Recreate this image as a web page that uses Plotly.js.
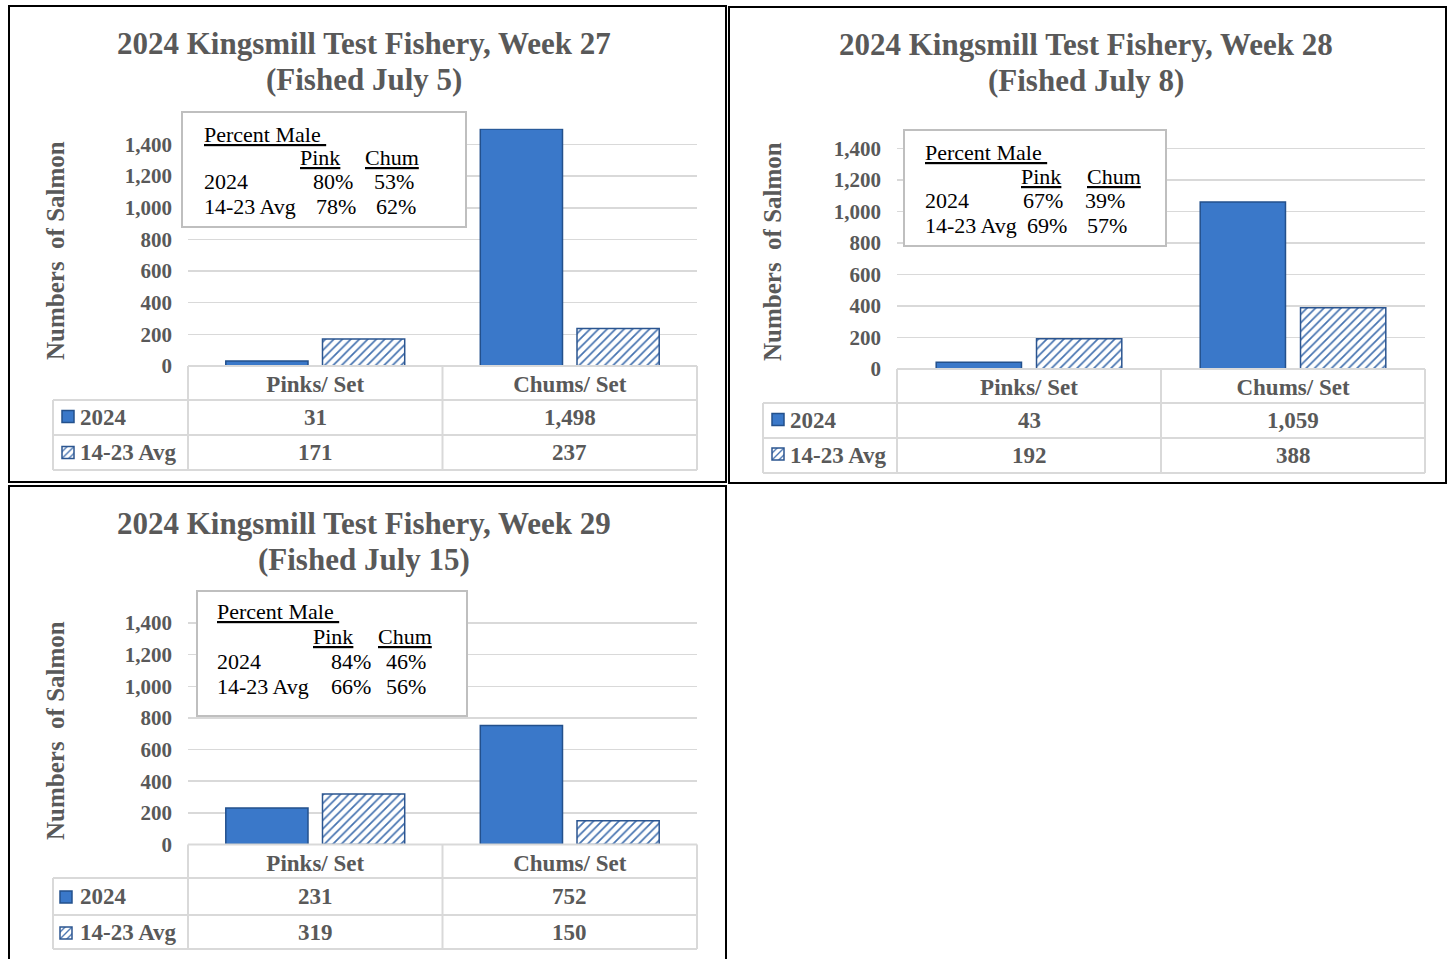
<!DOCTYPE html>
<html>
<head>
<meta charset="utf-8">
<script src="https://cdn.plot.ly/plotly-3.0.1.min.js"></script>
<style>html,body{margin:0;padding:0;background:#fff;}#chart{width:1448px;height:959px;}</style>
</head>
<body>
<div id="chart"></div>
<script>
// ---------------- DATA ----------------
const weeks = [27, 28, 29];
const fishedDates = ['July 5', 'July 8', 'July 15'];
const categories = ['Pinks/ Set', 'Chums/ Set'];
const seriesNames = ['2024', '14-23 Avg'];
const pinks2024 = [31, 43, 231];
const chums2024 = [1498, 1059, 752];
const pinksAvg = [171, 192, 319];
const chumsAvg = [237, 388, 150];
const malePink2024 = [80, 67, 84];
const maleChum2024 = [53, 39, 46];
const malePinkAvg = [78, 69, 66];
const maleChumAvg = [62, 57, 56];
const yTickVals = [0, 200, 400, 600, 800, 1000, 1200, 1400];
const yTitle = 'Numbers  of Salmon';

// ---------------- LAYOUT GEOMETRY (pixels) ----------------
const W = 1448, H = 959;
const FONT = '"Liberation Serif", "Times New Roman", serif';
const GRAY = '#595959';
const px = x => x / W;
const py = y => 1 - y / H;
const Y_MAX = 1500;

const G = [
  {border:[9,6,726,482], plotX:[188,697], zeroY:366, ppu:221.5/1400, titleX:364, titleY:[43.5,79.5],
   yTitleX:55, yTitleY:251, box:[182,112,466,227], textLeft:202, lineY:[134.3,157.6,181.6,206.6],
   pinkC:320, chumC:392, pinkR:[355,358], chumR:[416,418],
   tableLeft:53, rows:[366,400,435,470], iconX:68, iconY:[416.5,452.5], labelX:78},
  {border:[729,7,1446,483], plotX:[897,1425], zeroY:369, ppu:220.7/1400, titleX:1086, titleY:[44.5,80.5],
   yTitleX:772, yTitleY:252, box:[904,130,1166,246], textLeft:923, lineY:[152.6,176.6,200.6,225.6],
   pinkC:1041, chumC:1113.5, pinkR:[1065,1069], chumR:[1127,1129],
   tableLeft:763, rows:[369,403,438,473], iconX:778, iconY:[419.5,454], labelX:788},
  {border:[9,486,726,965], plotX:[188,697], zeroY:844.5, ppu:221.5/1400, titleX:364, titleY:[523.5,559.5],
   yTitleX:55, yTitleY:731, box:[197,591,467,716], textLeft:215, lineY:[611.6,636.6,661.6,686.6],
   pinkC:332.5, chumC:405, pinkR:[373,373], chumR:[428,428],
   tableLeft:53, rows:[844.5,878,915,949], iconX:66, iconY:[897,933], labelX:78}
];

const fmt = v => v.toLocaleString('en-US');

const data = [];
const layout = {
  width: W, height: H,
  margin: {l:0, r:0, t:0, b:0},
  paper_bgcolor: '#ffffff', plot_bgcolor: 'rgba(0,0,0,0)',
  barmode: 'group', bargap: 0.24, bargroupgap: 0.15,
  showlegend: true,
  font: {family: FONT, color: GRAY},
  shapes: [], annotations: []
};

function line(x0, y0, x1, y1, color, width) {
  layout.shapes.push({type:'line', xref:'paper', yref:'paper', x0:px(x0), y0:py(y0), x1:px(x1), y1:py(y1),
    line:{color:color, width:width}, layer:'above'});
}
function ann(text, x, y, opts) {
  layout.annotations.push(Object.assign({xref:'paper', yref:'paper', x:px(x), y:py(y), text:text,
    showarrow:false, xanchor:'center', yanchor:'middle',
    font:{family:FONT, size:22, color:'#000'}}, opts || {}));
}

const seriesVals = [
  [pinks2024, chums2024],
  [pinksAvg, chumsAvg]
];
const maleVals = [
  [malePink2024, maleChum2024],
  [malePinkAvg, maleChumAvg]
];

G.forEach((g, i) => {
  const suf = i === 0 ? '' : String(i + 1);
  const xa = 'x' + suf, ya = 'y' + suf;
  const topY = g.zeroY - Y_MAX * g.ppu;

  layout['xaxis' + suf] = {
    domain: [px(g.plotX[0]), px(g.plotX[1])], anchor: ya, type: 'category',
    categoryorder: 'array', categoryarray: categories,
    showgrid: false, zeroline: false, showline: false, ticks: '',
    ticklabelstandoff: 2,
    tickfont: {family: FONT, size: 23, color: GRAY, weight: 'bold'},
    fixedrange: true
  };
  layout['yaxis' + suf] = {
    domain: [py(g.zeroY), py(topY)], anchor: xa, range: [0, Y_MAX],
    tickvals: yTickVals, ticktext: yTickVals.map(fmt),
    showgrid: true, gridcolor: '#d9d9d9', gridwidth: 1.5,
    zeroline: false, showline: false, ticks: '',
    ticklabelstandoff: 15,
    tickfont: {family: FONT, size: 21, color: GRAY, weight: 'bold'},
    fixedrange: true
  };

  // bars
  seriesNames.forEach((s, k) => {
    const legKey = 'legend' + ((2 * i + k) === 0 ? '' : String(2 * i + k + 1));
    const trace = {
      type: 'bar', x: categories, y: [seriesVals[k][0][i], seriesVals[k][1][i]],
      name: ' ', xaxis: xa, yaxis: ya, legend: legKey, hoverinfo: 'skip',
      marker: k === 0
        ? {color: '#3a78c9', line: {color: '#23508c', width: 1.5}}
        : {color: '#ffffff', line: {color: '#2b5590', width: 1.5},
           pattern: {shape: '/', fgcolor: '#4673b0', bgcolor: '#ffffff', size: 6, solidity: 0.28}}
    };
    data.push(trace);
    layout[legKey] = {
      x: px(g.iconX - 20), y: py(g.iconY[k]), xanchor: 'left', yanchor: 'middle',
      bgcolor: 'rgba(0,0,0,0)', borderwidth: 0, font: {size: 12},
      itemclick: false, itemdoubleclick: false
    };
    // row label
    ann('<b>' + s + '</b>', g.labelX, (g.rows[k + 1] + g.rows[k + 2]) / 2,
      {xanchor: 'left', font: {family: FONT, size: 23, color: GRAY}});
    // table values
    categories.forEach((c, j) => {
      layout.annotations.push({xref: xa, yref: 'paper', x: c, y: py((g.rows[k + 1] + g.rows[k + 2]) / 2),
        text: '<b>' + fmt(seriesVals[k][j][i]) + '</b>', showarrow: false, xanchor: 'center', yanchor: 'middle',
        font: {family: FONT, size: 23, color: GRAY}});
    });
  });

  // panel border
  layout.shapes.push({type: 'rect', xref: 'paper', yref: 'paper',
    x0: px(g.border[0]), y0: py(g.border[1]), x1: px(g.border[2]), y1: py(g.border[3]),
    line: {color: '#000', width: 2}, fillcolor: 'rgba(0,0,0,0)', layer: 'above'});

  // titles
  ann('<b>2024 Kingsmill Test Fishery, Week ' + weeks[i] + '</b>', g.titleX, g.titleY[0],
    {font: {family: FONT, size: 31, color: GRAY}});
  ann('<b>(Fished ' + fishedDates[i] + ')</b>', g.titleX, g.titleY[1],
    {font: {family: FONT, size: 31, color: GRAY}});
  // y title
  ann('<b>' + yTitle + '</b>', g.yTitleX, g.yTitleY,
    {textangle: -90, font: {family: FONT, size: 25, color: GRAY}});

  // table lines
  const TC = '#d9d9d9', TW = 2;
  const xMid = (g.plotX[0] + g.plotX[1]) / 2;
  line(g.plotX[0], g.rows[0], g.plotX[1], g.rows[0], TC, TW);
  for (let r = 1; r < 4; r++) line(g.tableLeft, g.rows[r], g.plotX[1], g.rows[r], TC, TW);
  line(g.plotX[0], g.rows[0], g.plotX[0], g.rows[3], TC, TW);
  line(xMid, g.rows[0], xMid, g.rows[3], TC, TW);
  line(g.plotX[1], g.rows[0], g.plotX[1], g.rows[3], TC, TW);
  line(g.tableLeft, g.rows[1], g.tableLeft, g.rows[3], TC, TW);

  // percent male box
  layout.shapes.push({type: 'rect', xref: 'paper', yref: 'paper',
    x0: px(g.box[0]), y0: py(g.box[1]), x1: px(g.box[2]), y1: py(g.box[3]),
    line: {color: '#bfbfbf', width: 2}, fillcolor: '#ffffff', layer: 'above'});
  ann('<u>Percent Male </u>', g.textLeft, g.lineY[0], {xanchor: 'left'});
  ann('<u>Pink</u>', g.pinkC, g.lineY[1]);
  ann('<u>Chum</u>', g.chumC, g.lineY[1]);
  seriesNames.forEach((s, k) => {
    ann(s, g.textLeft, g.lineY[2 + k], {xanchor: 'left'});
    ann(maleVals[k][0][i] + '%', g.pinkR[k], g.lineY[2 + k], {xanchor: 'right'});
    ann(maleVals[k][1][i] + '%', g.chumR[k], g.lineY[2 + k], {xanchor: 'right'});
  });
});

Plotly.newPlot('chart', data, layout, {displayModeBar: false, staticPlot: true});
</script>
</body>
</html>
